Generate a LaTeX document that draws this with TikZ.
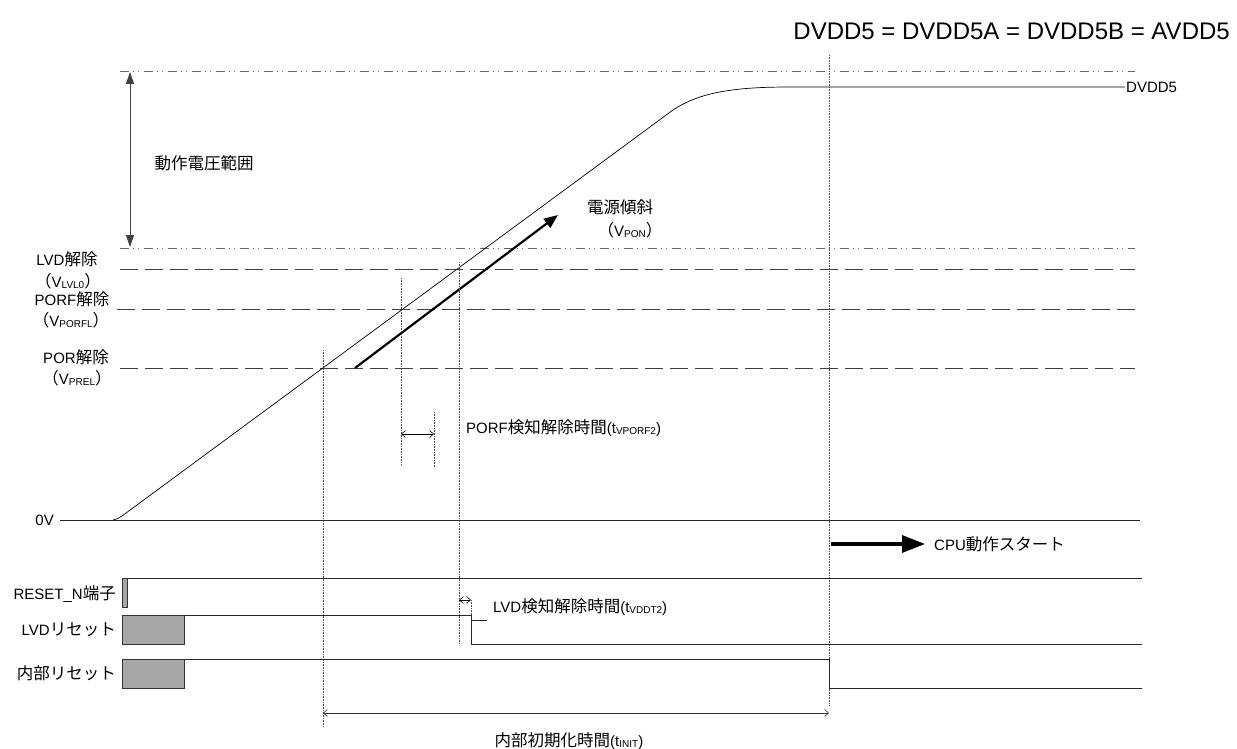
\documentclass[tikz,border=0pt]{standalone}
\usepackage{fontspec}
\setmainfont{Liberation Sans}
\newfontfamily\cjkfont{Noto Sans CJK JP}
\usetikzlibrary{arrows.meta,positioning}
\newcommand{\jp}[1]{{\cjkfont\fontsize{16.5}{18}\selectfont #1}}
\newcommand{\lo}[1]{\raisebox{-1pt}{\fontsize{10}{10}\selectfont #1}}

\tikzset{
  level/.style={draw=black!75, line width=0.8pt, dash pattern=on 18pt off 7pt},
  limit/.style={draw=black!60, line width=0.8pt, dash pattern=on 9pt off 4pt on 1pt off 4pt on 1pt off 5pt},
  guide/.style={draw=black!70, line width=0.6pt, densely dotted},
  sig/.style={draw=black!85, line width=0.9pt},
  rstbox/.style={draw=black!80, fill=black!35, line width=0.6pt},
  lbl/.style={font=\fontsize{15}{18}\selectfont, inner sep=1pt},
  span/.style={{Straight Barb[length=4pt,width=7pt]}-{Straight Barb[length=4pt,width=7pt]}, line width=0.6pt},
}

\begin{document}
\begin{tikzpicture}[x=1pt, y=-1pt]
    \useasboundingbox (0,0) rectangle (1237,749);
    % levels
    \coordinate (topL) at (120,71);   \coordinate (topR) at (1135,71);
    \coordinate (opL) at (120,248);   \coordinate (opR) at (1135,248);
    \coordinate (lvdL) at (120,269);  \coordinate (lvdR) at (1135,269);
    \coordinate (porfL) at (117,309); \coordinate (porfR) at (1135,309);
    \coordinate (porL) at (120,368);  \coordinate (porR) at (1135,368);
    \coordinate (zeroL) at (60,520);  \coordinate (zeroR) at (1140,520);
    \draw[limit] (topL) -- (topR);
    \draw[limit] (opL) -- (opR);
    \draw[level] (lvdL) -- (lvdR);
    \draw[level] (porfL) -- (porfR);
    \draw[level] (porL) -- (porR);
    \draw[sig] (zeroL) -- (zeroR);

    % supply ramp
    \coordinate (r0) at (113,520);
    \coordinate (r1) at (122,516);
    \coordinate (r2) at (673,110);
    \coordinate (r3) at (790,87);
    \coordinate (r4) at (1125,87);
    \draw[line width=0.7pt] (r0) .. controls (117,519) .. (r1) -- (r2)
      .. controls (700,92) and (735,87) .. (r3) -- (r4);
    \node[lbl, anchor=west] (dvdd) at (r4) {DVDD5};

    % operating range
    \coordinate (opA) at (130,72);
    \coordinate (opB) at (130,247);
    \draw[{Triangle[length=12pt,width=8pt]}-{Triangle[length=12pt,width=8pt]}, line width=1pt, black!75] (opA) -- (opB);
    \node[lbl] (oprange) at (204,163) {\jp{動作電圧範囲}};

    % slope arrow
    \coordinate (s0) at (355,368);
    \coordinate (s1) at (558,215);
    \draw[-{Triangle[length=14pt,width=11pt]}, line width=2.2pt] (s0) -- (s1);
    \node[lbl] (slope) at (620,207) {\jp{電源傾斜}};
    \node[lbl] (vpon) at (630,230) {\jp{（}V\lo{PON}\jp{）}};

    % level labels
    \node[lbl] (lvdtxt) at (67,259) {LVD\jp{解除}};
    \node[lbl] (lvdsub) at (68,281) {\jp{（}V\lo{LVL0}\jp{）}};
    \node[lbl] (porftxt) at (72,299) {PORF\jp{解除}};
    \node[lbl] (porfsub) at (71,320) {\jp{（}V\lo{PORFL}\jp{）}};
    \node[lbl] (portxt) at (76,357) {POR\jp{解除}};
    \node[lbl] (porsub) at (77,378) {\jp{（}V\lo{PREL}\jp{）}};
    \node[lbl, anchor=east] (zerotxt) at (55,520) {0V};

    % guides
    \draw[guide] (323,350) -- (323,727);
    \draw[guide] (401,278) -- (401,465);
    \draw[guide] (434,412) -- (434,467);
    \draw[guide] (459,262) -- (459,643);
    \draw[guide] (471,600) -- (471,617);
    \draw[guide] (829,55) -- (829,705);

    % timings
    \coordinate (pa) at (401,434); \coordinate (pb) at (434,434);
    \draw[span] (pa) -- (pb);
    \node[lbl, anchor=west] (porftime) at (465,428) {PORF\jp{検知解除時間}(t\lo{VPORF2})};
    \coordinate (la) at (459,600); \coordinate (lb) at (471,600);
    \draw[span] (la) -- (lb);
    \node[lbl, anchor=west] (lvdtime) at (492,607) {LVD\jp{検知解除時間}(t\lo{VDDT2})};
    \coordinate (ia) at (323,713); \coordinate (ib) at (829,713);
    \draw[span, black!80] (ia) -- (ib);
    \node[lbl] (inittime) at (569,741) {\jp{内部初期化時間}(t\lo{INIT})};

    % cpu start
    \coordinate (c0) at (831,544); \coordinate (c1) at (925,544);
    \draw[-{Triangle[length=23pt,width=17pt]}, line width=3.5pt] (c0) -- (c1);
    \node[lbl, anchor=west] (cpu) at (933,544) {CPU\jp{動作スタート}};

    % reset signals
    \draw[sig] (122,578) -- (1142,578);
    \filldraw[rstbox] (122,578) rectangle (127,607);
    \node[lbl, anchor=east] (rsttxt) at (117,594) {RESET\_N\jp{端子}};
    \draw[sig] (122,615) -- (471,615) -- (471,644) -- (1142,644);
    \draw[sig] (471,620) -- (487,620);
    \filldraw[rstbox] (122,615) rectangle (184,644);
    \node[lbl, anchor=east] (lvdrst) at (117,630) {LVD\jp{リセット}};
    \draw[sig] (122,659) -- (829,659) -- (829,688) -- (1142,688);
    \filldraw[rstbox] (122,659) rectangle (184,688);
    \node[lbl, anchor=east] (intrst) at (117,673) {\jp{内部リセット}};

    \node[font=\fontsize{24}{28}\selectfont, anchor=east, inner sep=0pt] (title) at (1230,31) {DVDD5 = DVDD5A = DVDD5B = AVDD5};
\end{tikzpicture}
\end{document}
